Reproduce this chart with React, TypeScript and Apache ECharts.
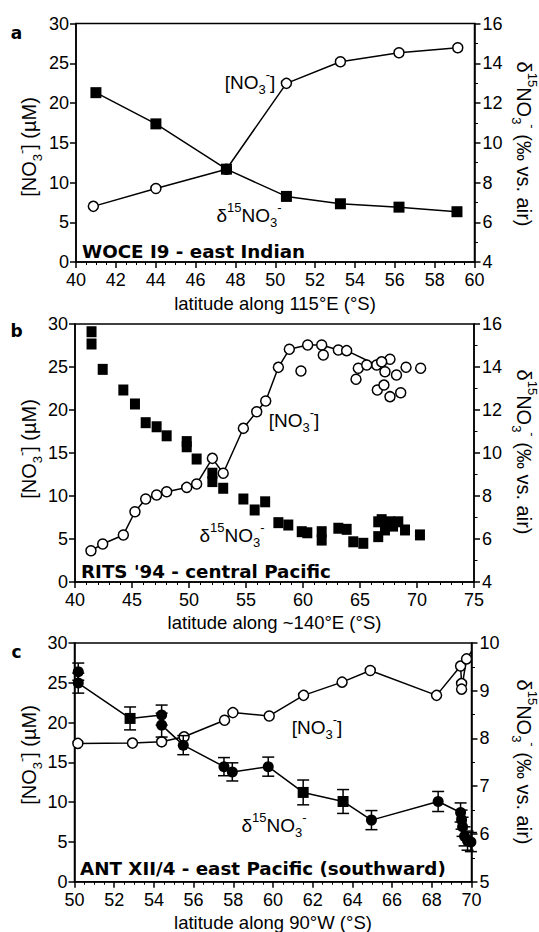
import React, { useEffect, useRef } from 'react';
import * as echarts from 'echarts';

const FONT = 'Liberation Sans';
const BOLD_FONT = 'DejaVu Sans';

// ---------- Panel a : WOCE I9 - east Indian ----------
const latA_no3 = [40.87, 44.01, 47.55, 50.56, 53.27, 56.21, 59.16];
const no3A = [7.0, 9.25, 11.67, 22.47, 25.19, 26.32, 26.95];
const latA_d15 = [41.0, 44.01, 47.55, 50.56, 53.27, 56.21, 59.12];
const d15A = [12.52, 10.95, 8.67, 7.3, 6.93, 6.76, 6.53];

// ---------- Panel b : RITS '94 - central Pacific ----------
const latB_line = [41.4, 42.43, 44.24, 45.26, 46.2, 47.16, 48.04, 49.8, 50.67, 52.05, 53.0, 54.77, 55.94, 56.73, 57.84, 58.8, 60.41, 61.64, 63.1, 63.83, 66.46, 67.63];
const no3B_line = [3.64, 4.42, 5.47, 8.17, 9.65, 10.12, 10.5, 11.0, 11.4, 14.38, 12.64, 17.87, 19.8, 21.05, 24.96, 27.06, 27.56, 27.56, 26.98, 26.9, 25.23, 25.9];
const latB_pts = [59.82, 61.78, 64.65, 64.85, 65.59, 66.9, 67.19, 66.52, 67.1, 67.63, 68.2, 68.57, 69.04, 70.32];
const no3B_pts = [24.53, 26.4, 23.57, 24.85, 25.23, 25.6, 24.45, 22.33, 22.9, 21.55, 24.07, 22.01, 24.97, 24.85];
const latB_d15 = [41.45, 41.45, 42.43, 44.24, 45.26, 46.2, 47.16, 48.04, 49.8, 49.8, 50.67, 52.05, 52.05, 53.0, 54.77, 55.76, 56.68, 57.84, 58.71, 59.89, 60.38, 61.64, 61.64, 63.1, 63.83, 64.41, 65.29, 66.6, 66.6, 66.9, 67.19, 67.63, 67.9, 68.36, 68.95, 70.26];
const d15B = [15.64, 15.07, 13.89, 12.93, 12.28, 11.41, 11.22, 10.8, 10.53, 10.29, 9.72, 9.06, 8.67, 8.36, 7.86, 7.35, 7.73, 6.76, 6.65, 6.34, 6.29, 6.34, 5.95, 6.5, 6.45, 5.87, 5.8, 6.8, 6.11, 6.9, 6.42, 6.8, 6.6, 6.8, 6.42, 6.19];

// ---------- Panel c : ANT XII/4 - east Pacific ----------
const latC_no3 = [50.17, 52.92, 54.39, 55.52, 57.56, 57.98, 59.81, 61.54, 63.48, 64.9, 68.24, 69.45, 69.5, 69.5, 69.75, 70.02];
const no3C = [17.38, 17.42, 17.58, 18.21, 20.29, 21.25, 20.83, 23.42, 25.08, 26.54, 23.42, 27.1, 24.9, 24.2, 28.0, 29.0];
const latC_d15 = [50.19, 50.19, 52.8, 54.39, 54.39, 55.48, 57.53, 57.95, 59.76, 61.52, 63.53, 64.96, 68.32, 69.45, 69.5, 69.55, 69.65, 69.8, 69.97];
const d15C = [9.4, 9.16, 8.42, 8.49, 8.28, 7.86, 7.41, 7.3, 7.41, 6.87, 6.68, 6.29, 6.68, 6.45, 6.3, 6.15, 5.95, 5.86, 5.83];
const errC = [0.18, 0.21, 0.24, 0.21, 0.25, 0.2, 0.19, 0.19, 0.2, 0.26, 0.25, 0.2, 0.21, 0.2, 0.2, 0.2, 0.2, 0.2, 0.2];
const symC = ['circle', 'circle', 'rect', 'circle', 'circle', 'circle', 'circle', 'circle', 'circle', 'rect', 'rect', 'circle', 'circle', 'circle', 'circle', 'circle', 'circle', 'circle', 'circle'];

const zip = (xs: number[], ys: number[]) => xs.map((x, i) => [x, ys[i]]);

const BLACK = '#000';
const LW = 1.5;

function xAx(grid: number, min: number, max: number, interval: number, minorSplit: number) {
  return {
    type: 'value', gridIndex: grid, min, max, interval,
    axisLine: { show: true, onZero: false, lineStyle: { color: BLACK, width: 1.5 } },
    axisTick: { show: true, length: 6, lineStyle: { color: BLACK, width: 1.5 } },
    minorTick: { show: true, splitNumber: minorSplit, length: 3, lineStyle: { color: BLACK, width: 1 } },
    splitLine: { show: false }, minorSplitLine: { show: false },
    axisLabel: { fontSize: 18, color: BLACK, fontFamily: FONT, margin: 9, showMinLabel: true, showMaxLabel: true },
  };
}
function yAx(grid: number, pos: string, min: number, max: number, interval: number, minorSplit: number) {
  return {
    type: 'value', gridIndex: grid, position: pos, min, max, interval,
    axisLine: { show: true, onZero: false, lineStyle: { color: BLACK, width: 1.5 } },
    axisTick: { show: true, length: 6, lineStyle: { color: BLACK, width: 1.5 } },
    minorTick: { show: minorSplit > 0, splitNumber: Math.max(minorSplit, 2), length: 3.5, lineStyle: { color: BLACK, width: 1 } },
    splitLine: { show: false }, minorSplitLine: { show: false },
    axisLabel: { fontSize: 18, color: BLACK, fontFamily: FONT, margin: pos === 'left' ? 7 : 8, showMinLabel: true, showMaxLabel: true },
  };
}

const subSt = { fontSize: 13, fontFamily: FONT, fill: BLACK, verticalAlign: 'bottom', lineHeight: 13 };
const supSt = { fontSize: 13, fontFamily: FONT, fill: BLACK, verticalAlign: 'top', lineHeight: 13 };

function txt(x: number, y: number, text: string, size: number, opts: any = {}) {
  const align = opts.align || 'center';
  return {
    type: 'text', x, y, rotation: opts.rotation || 0, z: 100,
    style: {
      text, fontSize: size, fontFamily: opts.bold ? BOLD_FONT : FONT, fontWeight: opts.bold ? 'bold' : 'normal', fill: BLACK,
      textAlign: align, align, textVerticalAlign: 'middle', verticalAlign: 'middle',
      lineHeight: size + 9,
      rich: { s: subSt, p: supSt },
    },
  };
}

const NO3 = '[NO{s|3}{p|-}]';
const D15 = 'δ{p|15}NO{s|3}{p|-}';

export default function App() {
  const ref = useRef<HTMLDivElement>(null);
  useEffect(() => {
    const chart = echarts.init(ref.current!, null, { renderer: 'svg' });

    const openCircle = { color: '#fff', borderColor: BLACK, borderWidth: 1.5, opacity: 1 };

    const option: any = {
      animation: false,
      backgroundColor: '#fff',
      grid: [
        { left: 76, top: 23.5, width: 398.5, height: 238.5, show: true, borderColor: BLACK, borderWidth: 1.5, backgroundColor: 'transparent' },
        { left: 75, top: 324, width: 399, height: 258, show: true, borderColor: BLACK, borderWidth: 1.5, backgroundColor: 'transparent' },
        { left: 74.5, top: 643, width: 397, height: 238.7, show: true, borderColor: BLACK, borderWidth: 1.5, backgroundColor: 'transparent' },
      ],
      xAxis: [
        xAx(0, 40, 60, 2, 4),
        xAx(1, 40, 75, 5, 5),
        xAx(2, 50, 70, 2, 4),
      ],
      yAxis: [
        yAx(0, 'left', 0, 30, 5, 0),
        yAx(0, 'right', 4, 16, 2, 2),
        yAx(1, 'left', 0, 30, 5, 0),
        yAx(1, 'right', 4, 16, 2, 2),
        yAx(2, 'left', 0, 30, 5, 0),
        yAx(2, 'right', 5, 10, 1, 2),
      ],
      series: [
        // panel a
        {
          type: 'line', xAxisIndex: 0, yAxisIndex: 0, data: zip(latA_no3, no3A),
          symbol: 'circle', symbolSize: 10, showSymbol: true,
          lineStyle: { color: BLACK, width: LW }, itemStyle: openCircle, z: 3,
        },
        {
          type: 'line', xAxisIndex: 0, yAxisIndex: 1, data: zip(latA_d15, d15A),
          symbol: 'rect', symbolSize: 11,
          lineStyle: { color: BLACK, width: LW }, itemStyle: { color: BLACK, opacity: 1 }, z: 4,
        },
        // panel b
        {
          type: 'line', xAxisIndex: 1, yAxisIndex: 2, data: zip(latB_line, no3B_line),
          symbol: 'circle', symbolSize: 10,
          lineStyle: { color: BLACK, width: LW }, itemStyle: openCircle, z: 3,
        },
        {
          type: 'scatter', xAxisIndex: 1, yAxisIndex: 2, data: zip(latB_pts, no3B_pts),
          symbol: 'circle', symbolSize: 10, itemStyle: openCircle, z: 3,
        },
        {
          type: 'scatter', xAxisIndex: 1, yAxisIndex: 3, data: zip(latB_d15, d15B),
          symbol: 'rect', symbolSize: [10, 11], itemStyle: { color: BLACK, opacity: 1 }, z: 4,
        },
        // panel c
        {
          type: 'line', xAxisIndex: 2, yAxisIndex: 4, data: zip(latC_no3, no3C),
          symbol: 'circle', symbolSize: 10,
          lineStyle: { color: BLACK, width: LW }, itemStyle: openCircle, z: 3,
        },
        {
          type: 'custom', xAxisIndex: 2, yAxisIndex: 5, z: 4,
          data: latC_d15.map((x, i) => [x, d15C[i] - errC[i], d15C[i] + errC[i]]),
          encode: { x: 0, y: [1, 2] },
          renderItem: (params: any, api: any) => {
            const x = api.value(0);
            const top = api.coord([x, api.value(2)]);
            const bot = api.coord([x, api.value(1)]);
            const w = 6;
            const st = { stroke: BLACK, lineWidth: 1.5 };
            return {
              type: 'group',
              children: [
                { type: 'line', shape: { x1: top[0], y1: top[1], x2: bot[0], y2: bot[1] }, style: st },
                { type: 'line', shape: { x1: top[0] - w, y1: top[1], x2: top[0] + w, y2: top[1] }, style: st },
                { type: 'line', shape: { x1: bot[0] - w, y1: bot[1], x2: bot[0] + w, y2: bot[1] }, style: st },
              ],
            };
          },
        },
        {
          type: 'line', xAxisIndex: 2, yAxisIndex: 5,
          data: latC_d15.map((x, i) => ({ value: [x, d15C[i]], symbol: symC[i] })),
          symbolSize: 11,
          lineStyle: { color: BLACK, width: LW }, itemStyle: { color: BLACK, opacity: 1 }, z: 5,
        },
      ],
      graphic: [
        // panel letters
        txt(16.5, 33, 'a', 17, { bold: true }),
        txt(16.5, 331, 'b', 17, { bold: true }),
        txt(16.5, 652, 'c', 17, { bold: true }),
        // axis titles, panel a
        txt(29, 147, NO3 + ' (µM)', 20, { rotation: Math.PI / 2 }),
        txt(524, 144, D15 + ' (‰ vs. air)', 20, { rotation: -Math.PI / 2 }),
        txt(275, 303, 'latitude along 115°E (°S)', 18.5),
        // panel b
        txt(29, 449, NO3 + ' (µM)', 20, { rotation: Math.PI / 2 }),
        txt(524, 452, D15 + ' (‰ vs. air)', 20, { rotation: -Math.PI / 2 }),
        txt(274.5, 622, 'latitude along ~140°E (°S)', 18.5),
        // panel c
        txt(29, 755, NO3 + ' (µM)', 20, { rotation: Math.PI / 2 }),
        txt(524, 762, D15 + ' (‰ vs. air)', 20, { rotation: -Math.PI / 2 }),
        txt(273, 922, 'latitude along 90°W (°S)', 18.5),
        // in-plot annotations
        txt(250, 82, NO3, 19),
        txt(249, 215, D15, 19),
        txt(82, 251.5, 'WOCE I9 - east Indian', 18.3, { bold: true, align: 'left' }),
        txt(294, 420, NO3, 19),
        txt(232, 535, D15, 19),
        txt(81, 571.5, "RITS '94 - central Pacific", 18.3, { bold: true, align: 'left' }),
        txt(317, 727, NO3, 19),
        txt(274, 825, D15, 19),
        txt(80, 868, 'ANT XII/4 - east Pacific (southward)', 18.3, { bold: true, align: 'left' }),
      ],
    };
    chart.setOption(option);
    return () => chart.dispose();
  }, []);
  return (
    <div
      ref={ref}
      style={{ position: 'absolute', left: 0, top: 0, width: 539, height: 932, background: '#fff' }}
    />
  );
}
